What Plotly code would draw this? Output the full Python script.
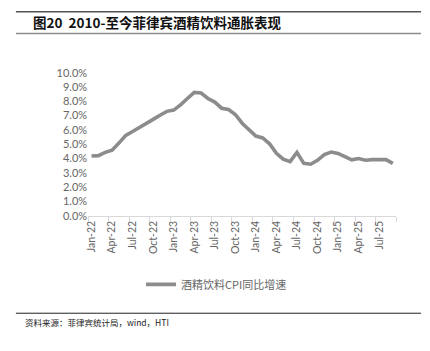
import plotly.graph_objects as go

months = ["Jan-22","Feb-22","Mar-22","Apr-22","May-22","Jun-22","Jul-22","Aug-22","Sep-22","Oct-22","Nov-22","Dec-22",
          "Jan-23","Feb-23","Mar-23","Apr-23","May-23","Jun-23","Jul-23","Aug-23","Sep-23","Oct-23","Nov-23","Dec-23",
          "Jan-24","Feb-24","Mar-24","Apr-24","May-24","Jun-24","Jul-24","Aug-24","Sep-24","Oct-24","Nov-24","Dec-24",
          "Jan-25","Feb-25","Mar-25","Apr-25","May-25","Jun-25","Jul-25","Aug-25","Sep-25"]
cpi_yoy = [4.18, 4.20, 4.43, 4.58, 5.08, 5.62, 5.89, 6.16, 6.40, 6.74, 7.03, 7.30,
           7.39, 7.75, 8.20, 8.63, 8.58, 8.20, 7.95, 7.52, 7.43, 7.08, 6.47, 6.02,
           5.57, 5.44, 5.03, 4.36, 3.96, 3.78, 4.43, 3.66, 3.60, 3.87, 4.27, 4.45,
           4.36, 4.13, 3.91, 4.00, 3.88, 3.92, 3.92, 3.92, 3.66]
series_name = "酒精饮料CPI同比增速"
title_text = "<b>图20  2010-至今菲律宾酒精饮料通胀表现</b>"
source_text = "资料来源：菲律宾统计局，wind，HTI"

idx = list(range(len(months)))
vals = [v / 100 for v in cpi_yoy]
label_pos = idx[::3]
label_txt = months[::3]
bound_pos = [i - 0.5 for i in range(0, len(months) + 1, 3)]

W, H = 430, 351
def px(x): return x / W
def py(y): return 1 - y / H

fig = go.Figure()
fig.add_trace(go.Scatter(x=idx, y=vals, mode="lines", name=series_name,
                         line=dict(color="#8c8c8c", width=3.6)))
# invisible trace for boundary tick axis
fig.add_trace(go.Scatter(x=[bound_pos[0]], y=[None], xaxis="x2", showlegend=False, hoverinfo="skip"))

tickfont = dict(family="Lato, Liberation Sans, sans-serif", size=11, color="#666666")
xr = [-0.5, len(months) - 0.5]
fig.update_layout(
    width=W, height=H, margin=dict(l=0, r=0, t=0, b=0),
    paper_bgcolor="white", plot_bgcolor="white",
    showlegend=True,
    legend=dict(orientation="h", x=0.5, xanchor="center", y=py(288), yanchor="middle",
                font=dict(family="Noto Sans CJK SC", size=11, color="#666666"),
                itemwidth=30),
    xaxis=dict(domain=[px(85.7), px(396)], range=xr, tickmode="array",
               tickvals=label_pos, ticktext=label_txt, tickangle=-90,
               ticks="", showgrid=False, zeroline=False,
               showline=True, linecolor="#d9d9d9", linewidth=1,
               tickfont=dict(family="Lato, Liberation Sans, sans-serif", size=10.5, color="#666666")),
    xaxis2=dict(domain=[px(85.7), px(396)], range=xr, overlaying="x", anchor="y",
                tickmode="array", tickvals=bound_pos, ticktext=[""] * len(bound_pos),
                ticks="outside", ticklen=5, tickcolor="#d9d9d9", showgrid=False,
                zeroline=False, showline=False, side="bottom"),
    yaxis=dict(domain=[py(216.7), py(68.3)], range=[0, 0.10], dtick=0.01, tickformat=".1%",
               showgrid=False, zeroline=False, showline=False, ticks="",
               tickfont=tickfont),
)

fig.add_shape(type="line", xref="paper", yref="paper", x0=px(13), x1=px(421), y0=py(5), y1=py(5),
              line=dict(color="#555555", width=1.5))
fig.add_shape(type="line", xref="paper", yref="paper", x0=px(13), x1=px(421), y0=py(27.5), y1=py(27.5),
              line=dict(color="#8c8c8c", width=1.5))
fig.add_shape(type="line", xref="paper", yref="paper", x0=px(13), x1=px(421), y0=py(318), y1=py(318),
              line=dict(color="#222222", width=1))

fig.add_annotation(text=title_text, xref="paper", yref="paper", x=px(29), y=py(16),
                   xanchor="left", yanchor="middle", showarrow=False, borderpad=0,
                   font=dict(family="Noto Sans CJK SC", size=13.5, color="#111111"))
fig.add_annotation(text=source_text, xref="paper", yref="paper", x=px(21), y=py(327),
                   xanchor="left", yanchor="middle", showarrow=False, borderpad=0,
                   font=dict(family="Noto Sans CJK SC", size=8.5, color="#222222"))

fig.write_html("out.html")
